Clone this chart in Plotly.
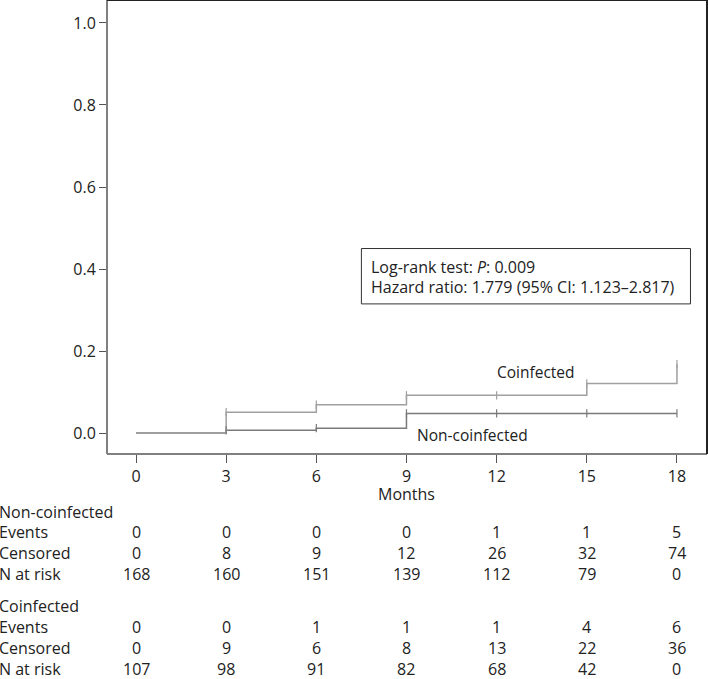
import plotly.graph_objects as go

months = [0, 3, 6, 9, 12, 15, 18]
non_coinf_cum = [0.0, 0.007, 0.012, 0.048, 0.048, 0.048, 0.048]
coinf_cum = [0.0, 0.051, 0.069, 0.092, 0.092, 0.121, 0.168]
non_censor_x = [3, 6, 9, 12, 15, 18]
non_censor_y = [0.007, 0.012, 0.048, 0.048, 0.048, 0.048]
coinf_censor_x = [3, 6, 9, 12, 15, 18]
coinf_censor_y = [0.051, 0.069, 0.092, 0.092, 0.121, 0.168]

y_ticks = [0.0, 0.2, 0.4, 0.6, 0.8, 1.0]

non_events = [0, 0, 0, 0, 1, 1, 5]
non_censored = [0, 8, 9, 12, 26, 32, 74]
non_risk = [168, 160, 151, 139, 112, 79, 0]
co_events = [0, 0, 1, 1, 1, 4, 6]
co_censored = [0, 9, 6, 8, 13, 22, 36]
co_risk = [107, 98, 91, 82, 68, 42, 0]

FONT = "Open Sans"
TXT = "#222222"
W, H = 708, 679
ML, MR, MT, MB = 107, 1, 0, 225
PW = W - ML - MR
PH = H - MT - MB
FS = 16

fig = go.Figure()
fig.add_trace(go.Scatter(x=months, y=non_coinf_cum, mode="lines", line_shape="hv",
                         line=dict(color="#7a7a7a", width=1.5), showlegend=False))
fig.add_trace(go.Scatter(x=months, y=coinf_cum, mode="lines", line_shape="hv",
                         line=dict(color="#a0a0a0", width=1.5), showlegend=False))
fig.add_trace(go.Scatter(x=non_censor_x, y=non_censor_y, mode="markers",
                         marker=dict(symbol="line-ns", size=6, line=dict(color="#7a7a7a", width=1.2)),
                         showlegend=False))
fig.add_trace(go.Scatter(x=coinf_censor_x, y=coinf_censor_y, mode="markers",
                         marker=dict(symbol="line-ns", size=6, line=dict(color="#a0a0a0", width=1.2)),
                         showlegend=False))

fig.update_xaxes(range=[-0.965, 19.0], tickvals=months, ticktext=[str(m) for m in months],
                 ticks="outside", ticklen=8, tickcolor="#555", showgrid=False, zeroline=False,
                 showline=False, tickfont=dict(family=FONT, size=FS, color=TXT))
fig.update_yaxes(range=[-0.051, 1.056], tickvals=y_ticks, ticktext=[f"{v:.1f}" for v in y_ticks],
                 ticks="outside", ticklen=7, tickcolor="#555", showgrid=False, zeroline=False,
                 showline=False, tickfont=dict(family=FONT, size=FS, color=TXT))

# frame
fig.add_shape(type="line", xref="paper", yref="paper", x0=0, x1=0, y0=0, y1=1, line=dict(color="#808080", width=2))
fig.add_shape(type="line", xref="paper", yref="paper", x0=0, x1=1, y0=0, y1=0, line=dict(color="#808080", width=2))
fig.add_shape(type="line", xref="paper", yref="paper", x0=0, x1=1, y0=1, y1=1, line=dict(color="#222", width=2))
fig.add_shape(type="line", xref="paper", yref="paper", x0=1, x1=1, y0=0, y1=1, line=dict(color="#222", width=2))

# stats box
fig.add_shape(type="rect", xref="x", yref="y", x0=7.5, x1=18.45, y0=0.315, y1=0.45,
              line=dict(color="#333", width=1), fillcolor="white")
fig.add_annotation(x=7.75, y=0.404, xref="x", yref="y", xanchor="left", yanchor="middle", showarrow=False,
                   text="Log-rank test: <i>P</i>: 0.009", font=dict(family=FONT, size=FS, color=TXT))
fig.add_annotation(x=7.75, y=0.355, xref="x", yref="y", xanchor="left", yanchor="middle", showarrow=False,
                   text="Hazard ratio: 1.779 (95% CI: 1.123–2.817)", font=dict(family=FONT, size=FS, color=TXT))

# curve labels
fig.add_annotation(x=13.3, y=0.15, xref="x", yref="y", showarrow=False, text="Coinfected",
                   font=dict(family=FONT, size=15.5, color=TXT))
fig.add_annotation(x=11.2, y=-0.005, xref="x", yref="y", showarrow=False, text="Non-coinfected",
                   font=dict(family=FONT, size=15.5, color=TXT))

def py(pix):
    return (H - MB - pix) / PH

label_x = -(ML + 3) / PW

# x axis title
fig.add_annotation(x=9, y=py(494), xref="x", yref="paper", xanchor="center", yanchor="middle",
                   showarrow=False, text="Months", font=dict(family=FONT, size=FS, color=TXT))

rows = [
    (512, "Non-coinfected", None),
    (532, "Events", non_events),
    (553, "Censored", non_censored),
    (574, "N at risk", non_risk),
    (606, "Coinfected", None),
    (627, "Events", co_events),
    (648, "Censored", co_censored),
    (669, "N at risk", co_risk),
]
for pix, label, vals in rows:
    fig.add_annotation(x=label_x, y=py(pix), xref="paper", yref="paper", xanchor="left", yanchor="middle",
                       showarrow=False, text=label, font=dict(family=FONT, size=FS, color=TXT))
    if vals is not None:
        for m, v in zip(months, vals):
            fig.add_annotation(x=m, y=py(pix), xref="x", yref="paper", xanchor="center", yanchor="middle",
                               showarrow=False, text=str(v), font=dict(family=FONT, size=FS, color=TXT))

fig.update_layout(width=W, height=H, margin=dict(l=ML, r=MR, t=MT, b=MB, autoexpand=False),
                  plot_bgcolor="white", paper_bgcolor="white")
fig.write_html("out.html", config={"displayModeBar": False},
               post_script="document.body.style.margin='0';document.body.style.overflow='hidden';")
